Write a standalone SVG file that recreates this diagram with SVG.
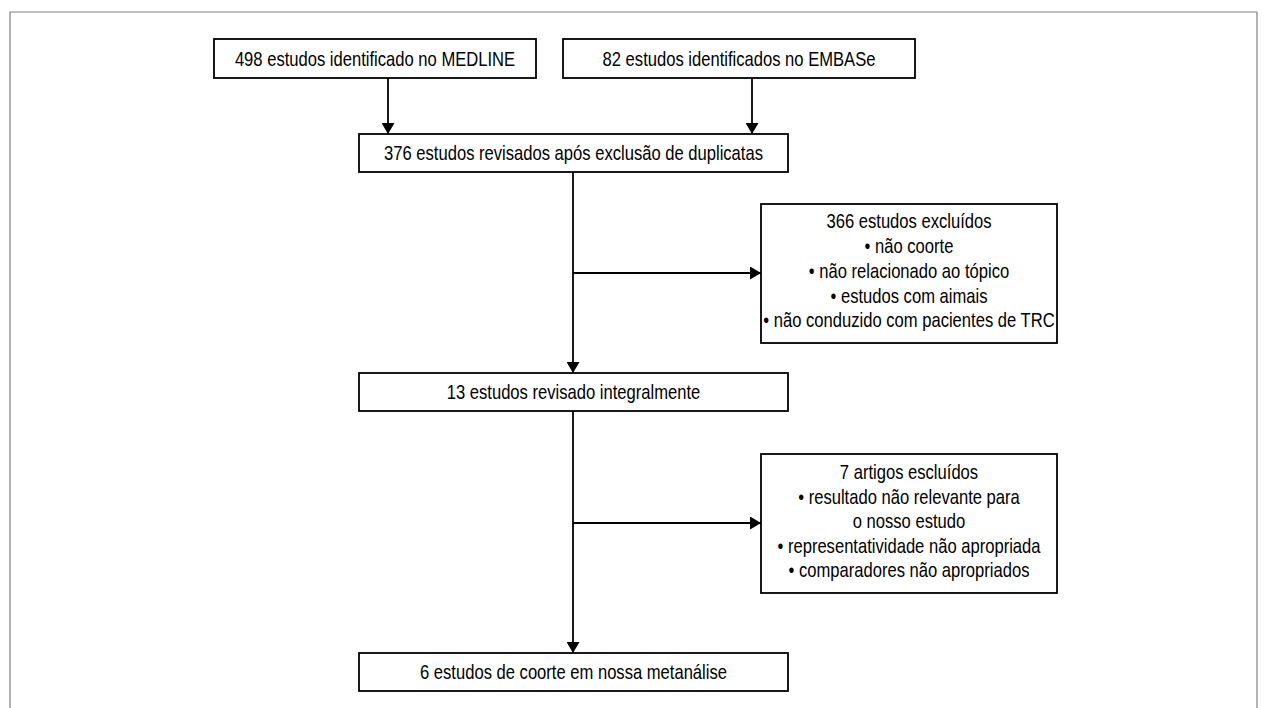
<svg xmlns="http://www.w3.org/2000/svg" width="1267" height="708" viewBox="0 0 1267 708">
<style>
.box{fill:#fff;stroke:#000;stroke-width:1.8}
.t{font-family:"Liberation Sans",Arial,sans-serif;font-size:20px;fill:#000;text-anchor:middle}
.c{stroke:#000;stroke-width:1.8;fill:none}
</style>
<defs>
<marker id="ah" viewBox="0 0 11 13" refX="11" refY="6.5" markerWidth="11" markerHeight="13" markerUnits="userSpaceOnUse" orient="auto">
<path d="M0,0 L11,6.5 L0,13 z" fill="#000"/>
</marker>
</defs>
<rect x="0" y="0" width="1267" height="708" fill="#fff"/>
<path d="M10,720 L10,12 L1257,12 L1257,720" fill="none" stroke="#808080" stroke-width="1.2"/>
<g id="connectors">
<line class="c" x1="388" y1="78" x2="388" y2="134" marker-end="url(#ah)"/>
<line class="c" x1="752" y1="78" x2="752" y2="134" marker-end="url(#ah)"/>
<line class="c" x1="573" y1="172" x2="573" y2="373" marker-end="url(#ah)"/>
<line class="c" x1="573" y1="273" x2="761" y2="273" marker-end="url(#ah)"/>
<line class="c" x1="573" y1="411" x2="573" y2="653" marker-end="url(#ah)"/>
<line class="c" x1="573" y1="523" x2="761" y2="523" marker-end="url(#ah)"/>
</g>
<g id="n1">
<rect class="box" x="214" y="39" width="322" height="39"/>
<g transform="translate(375,0) scale(0.83,1)"><text class="t" x="0" y="66">498 estudos identificado no MEDLINE</text></g>
</g>
<g id="n2">
<rect class="box" x="563" y="39" width="352" height="39"/>
<g transform="translate(739,0) scale(0.83,1)"><text class="t" x="0" y="66">82 estudos identificados no EMBASe</text></g>
</g>
<g id="n3">
<rect class="box" x="359" y="134" width="429" height="38"/>
<g transform="translate(573.5,0) scale(0.83,1)"><text class="t" x="0" y="160">376 estudos revisados após exclusão de duplicatas</text></g>
</g>
<g id="n4">
<rect class="box" x="761" y="204" width="296" height="139"/>
<g transform="translate(909,0) scale(0.83,1)">
<text class="t" x="0" y="228">366 estudos excluídos</text>
<text class="t" x="0" y="253">• não coorte</text>
<text class="t" x="0" y="278">• não relacionado ao tópico</text>
<text class="t" x="0" y="303">• estudos com aimais</text>
<text class="t" x="0" y="327">• não conduzido com pacientes de TRC</text>
</g>
</g>
<g id="n5">
<rect class="box" x="359" y="373" width="429" height="38"/>
<g transform="translate(573.5,0) scale(0.83,1)"><text class="t" x="0" y="399">13 estudos revisado integralmente</text></g>
</g>
<g id="n6">
<rect class="box" x="761" y="454" width="296" height="139"/>
<g transform="translate(909,0) scale(0.83,1)">
<text class="t" x="0" y="479">7 artigos escluídos</text>
<text class="t" x="0" y="504">• resultado não relevante para</text>
<text class="t" x="0" y="528">o nosso estudo</text>
<text class="t" x="0" y="553">• representatividade não apropriada</text>
<text class="t" x="0" y="577">• comparadores não apropriados</text>
</g>
</g>
<g id="n7">
<rect class="box" x="359" y="653" width="429" height="38"/>
<g transform="translate(573.5,0) scale(0.83,1)"><text class="t" x="0" y="679">6 estudos de coorte em nossa metanálise</text></g>
</g>
</svg>
